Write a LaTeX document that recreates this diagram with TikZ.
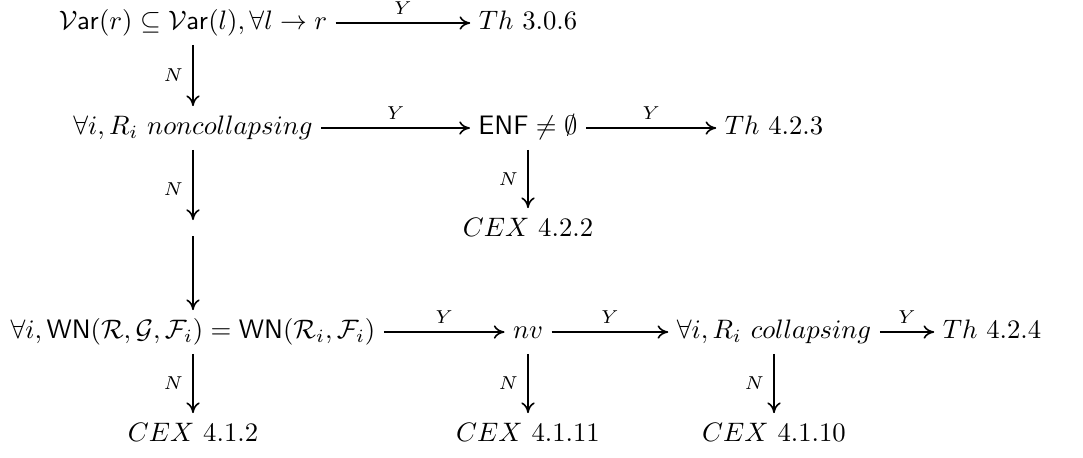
\documentclass[tikz,border=0pt]{standalone}
\usepackage{amsmath,amssymb}
\usetikzlibrary{arrows.meta}
\tikzset{
  obj/.style={inner xsep=3pt, inner ysep=3pt, text height=0.75em, text depth=0.25em},
  arr/.style={draw, line width=0.6pt, -{Computer Modern Rightarrow[length=4pt,width=5pt]}},
  ylab/.style={inner sep=0pt, above=3pt},
  nlab/.style={inner sep=0pt, left=3.5pt}
}
\begin{document}
\begin{tikzpicture}[x=0.3745pt,y=-0.3745pt]
\useasboundingbox (0,0) rectangle (1083,457);
\node[obj] (a1) at (193,23) {$\mathcal{V}\mathsf{ar}(r) \subseteq \mathcal{V}\mathsf{ar}(l), \forall l \to r$};
\node[obj] (a2) at (528,23) {$Th~3.0.6$};
\node[obj] (b1) at (193,128) {$\forall i, R_i~noncollapsing$};
\node[obj] (b2) at (528,128) {$\mathsf{ENF} \neq \emptyset$};
\node[obj] (b3) at (774,128) {$Th~4.2.3$};
\coordinate (c1) at (193,228);
\node[obj] (c2) at (528,230) {$CEX~4.2.2$};
\node[obj] (d1) at (193,332) {$\forall i, \mathsf{WN}(\mathcal{R},\mathcal{G},\mathcal{F}_i) = \mathsf{WN}(\mathcal{R}_i,\mathcal{F}_i)$};
\node[obj] (d2) at (528,332) {$nv$};
\node[obj] (d3) at (774,332) {$\forall i, R_i~collapsing$};
\node[obj] (d4) at (992,332) {$Th~4.2.4$};
\node[obj] (e1) at (193,435) {$CEX~4.1.2$};
\node[obj] (e2) at (528,435) {$CEX~4.1.11$};
\node[obj] (e3) at (774,435) {$CEX~4.1.10$};
\draw[arr] (a1) -- node[ylab]{$\scriptstyle Y$} (a2);
\draw[arr] (a1) -- node[nlab]{$\scriptstyle N$} (b1);
\draw[arr] (b1) -- node[ylab]{$\scriptstyle Y$} (b2);
\draw[arr] (b2) -- node[ylab]{$\scriptstyle Y$} (b3);
\draw[arr] (b2) -- node[nlab]{$\scriptstyle N$} (c2);
\draw[arr, shorten >=3pt] (b1) -- node[nlab]{$\scriptstyle N$} (c1);
\draw[arr, shorten <=3pt] (c1) -- (d1);
\draw[arr] (d1) -- node[ylab]{$\scriptstyle Y$} (d2);
\draw[arr] (d2) -- node[ylab]{$\scriptstyle Y$} (d3);
\draw[arr] (d3) -- node[ylab]{$\scriptstyle Y$} (d4);
\draw[arr] (d1) -- node[nlab]{$\scriptstyle N$} (e1);
\draw[arr] (d2) -- node[nlab]{$\scriptstyle N$} (e2);
\draw[arr] (d3) -- node[nlab]{$\scriptstyle N$} (e3);
\end{tikzpicture}
\end{document}
